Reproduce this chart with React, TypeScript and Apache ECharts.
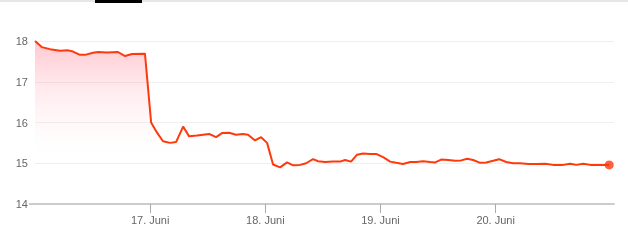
import React, { useEffect, useRef } from "react";
import * as echarts from "echarts";

const times: string[] = [
  "2014-06-16 00:00", "2014-06-16 01:24", "2014-06-16 03:08", "2014-06-16 05:13", "2014-06-16 06:53",
  "2014-06-16 07:55", "2014-06-16 09:23", "2014-06-16 10:25", "2014-06-16 12:06", "2014-06-16 13:08",
  "2014-06-16 15:00", "2014-06-16 17:18", "2014-06-16 18:46", "2014-06-16 20:13", "2014-06-16 22:55",
  "2014-06-17 00:12", "2014-06-17 01:26", "2014-06-17 02:41", "2014-06-17 04:09", "2014-06-17 05:24",
  "2014-06-17 06:52", "2014-06-17 08:07", "2014-06-17 09:47", "2014-06-17 12:17", "2014-06-17 13:44",
  "2014-06-17 14:59", "2014-06-17 16:27", "2014-06-17 17:54", "2014-06-17 19:22", "2014-06-17 20:24",
  "2014-06-17 21:52", "2014-06-17 23:07", "2014-06-18 00:22", "2014-06-18 01:37", "2014-06-18 03:05",
  "2014-06-18 04:32", "2014-06-18 05:47", "2014-06-18 07:15", "2014-06-18 08:30", "2014-06-18 09:57",
  "2014-06-18 11:00", "2014-06-18 12:27", "2014-06-18 14:07", "2014-06-18 15:35", "2014-06-18 16:37",
  "2014-06-18 17:52", "2014-06-18 19:07", "2014-06-18 20:22", "2014-06-18 21:50", "2014-06-18 23:05",
  "2014-06-19 00:33", "2014-06-19 02:01", "2014-06-19 03:16", "2014-06-19 04:43", "2014-06-19 06:11",
  "2014-06-19 07:26", "2014-06-19 08:54", "2014-06-19 10:21", "2014-06-19 11:24", "2014-06-19 12:39",
  "2014-06-19 14:06", "2014-06-19 15:34", "2014-06-19 16:49", "2014-06-19 18:04", "2014-06-19 19:19",
  "2014-06-19 20:47", "2014-06-19 22:02", "2014-06-19 23:29", "2014-06-20 00:44", "2014-06-20 02:12",
  "2014-06-20 03:40", "2014-06-20 05:07", "2014-06-20 06:47", "2014-06-20 08:27", "2014-06-20 10:20",
  "2014-06-20 12:00", "2014-06-20 14:05", "2014-06-20 15:33", "2014-06-20 16:48", "2014-06-20 18:16",
  "2014-06-20 19:44", "2014-06-20 21:24", "2014-06-20 23:40",
];

const prices: number[] = [
  18.0, 17.85, 17.8, 17.76, 17.77,
  17.74, 17.66, 17.66, 17.71, 17.73,
  17.72, 17.73, 17.63, 17.68, 17.69,
  16.0, 15.75, 15.54, 15.5, 15.52,
  15.9, 15.66, 15.68, 15.72, 15.64,
  15.74, 15.75, 15.7, 15.72, 15.7,
  15.56, 15.64, 15.5, 14.97, 14.9,
  15.02, 14.95, 14.96, 15.0, 15.1,
  15.05, 15.03, 15.04, 15.04, 15.08,
  15.04, 15.21, 15.24, 15.23, 15.23,
  15.15, 15.04, 15.01, 14.98, 15.03,
  15.03, 15.05, 15.03, 15.02, 15.09,
  15.08, 15.06, 15.07, 15.11, 15.08,
  15.01, 15.02, 15.06, 15.1, 15.03,
  15.0, 15.0, 14.98, 14.98, 14.99,
  14.96, 14.96, 14.99, 14.96, 14.99,
  14.96, 14.96, 14.96,
];

const dayTicks: string[] = ["2014-06-17 00:00", "2014-06-18 00:00", "2014-06-19 00:00", "2014-06-20 00:00"];
const dayLabels: string[] = ["17. Juni", "18. Juni", "19. Juni", "20. Juni"];
const xMin = "2014-06-16 00:00";
const xMax = "2014-06-21 00:40";
const yTicks: number[] = [14, 15, 16, 17, 18];

const parseT = (s: string) => {
  const [d, t] = s.split(" ");
  const [y, m, dd] = d.split("-").map(Number);
  const [hh, mm] = t.split(":").map(Number);
  return Date.UTC(y, m - 1, dd, hh, mm);
};
const hoursFrom = (s: string) => (parseT(s) - parseT(xMin)) / 3600000;

export default function App() {
  const ref = useRef<HTMLDivElement>(null);
  useEffect(() => {
    if (!ref.current) return;
    const chart = echarts.init(ref.current, undefined, { renderer: "svg" });
    const data = times.map((t, i) => [hoursFrom(t), prices[i]]);
    const tickVals = dayTicks.map(hoursFrom);
    const labelFor = (v: number) => {
      const i = tickVals.findIndex((tv) => Math.abs(tv - v) < 1e-6);
      return i >= 0 ? dayLabels[i] : "";
    };
    const lineColor = "#fd3a0c";
    chart.setOption({
      animation: false,
      grid: { left: 35, right: 14, top: 41, bottom: 38, containLabel: false },
      xAxis: {
        type: "value",
        min: 0,
        max: hoursFrom(xMax),
        axisLine: { show: true, lineStyle: { color: "#cccccc", width: 2 } },
        axisTick: { show: true, customValues: tickVals, length: 9, lineStyle: { color: "#aaaaaa", width: 1 } },
        axisLabel: {
          customValues: tickVals,
          formatter: (v: number) => labelFor(v),
          color: "#666666",
          fontSize: 11,
          fontFamily: "Liberation Sans, Arial, sans-serif",
          margin: 10,
        },
        splitLine: { show: false },
      },
      yAxis: {
        type: "value",
        min: yTicks[0],
        max: yTicks[yTicks.length - 1],
        interval: 1,
        axisLine: { show: false },
        axisTick: { show: false },
        axisLabel: {
          color: "#666666",
          fontSize: 11,
          fontFamily: "Liberation Sans, Arial, sans-serif",
          margin: 7,
        },
        splitLine: { show: true, lineStyle: { color: "#efefef", width: 1 } },
      },
      graphic: [
        { type: "rect", left: 0, top: 0, shape: { width: 628, height: 2 }, style: { fill: "#e6e6e6" }, silent: true },
        { type: "rect", left: 95, top: 0, shape: { width: 47, height: 3 }, style: { fill: "#000000" }, silent: true },
        { type: "line", shape: { x1: 29, y1: 204, x2: 36, y2: 204 }, style: { stroke: "#cccccc", lineWidth: 2 }, silent: true },
      ],
      series: [
        {
          type: "line",
          data,
          showSymbol: false,
          symbol: "none",
          lineStyle: { color: lineColor, width: 2 },
          areaStyle: {
            color: new echarts.graphic.LinearGradient(0, 0, 0, 1, [
              { offset: 0, color: "rgba(255,110,130,0.55)" },
              { offset: 0.76, color: "rgba(255,255,255,0)" },
              { offset: 1, color: "rgba(255,255,255,0)" },
            ]),
          },
          z: 2,
        },
        {
          type: "scatter",
          data: [data[data.length - 1]],
          symbol: "circle",
          symbolSize: 9,
          itemStyle: { color: lineColor },
          z: 3,
        },
      ],
    });
    return () => chart.dispose();
  }, []);
  return <div ref={ref} style={{ position: "fixed", left: 0, top: 0, width: 628, height: 242 }} />;
}
